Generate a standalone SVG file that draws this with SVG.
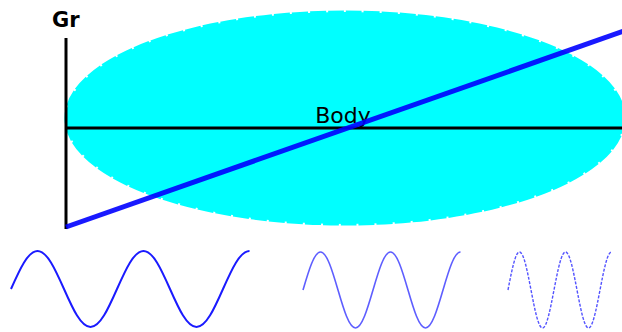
<svg xmlns="http://www.w3.org/2000/svg" width="622" height="332" viewBox="0 0 622 332">
<style>
.lbl{font-family:"DejaVu Sans",sans-serif;fill:#000}
.axis{stroke:#000;stroke-width:3;fill:none}
.wave{fill:none;stroke:#1a1aff}
</style>
<rect width="622" height="332" fill="#fff"/>
<g id="body">
<ellipse cx="345" cy="118" rx="279" ry="106" fill="#00ffff" stroke="#00ffff" stroke-width="3" stroke-dasharray="16 2"/>
<text class="lbl" x="343" y="123" font-size="22" text-anchor="middle">Body</text>
</g>
<g id="connectors">
<line class="axis" x1="66" y1="38" x2="66" y2="229"/>
<line class="axis" x1="66" y1="128" x2="622" y2="128"/>
<line x1="66" y1="227" x2="624" y2="31" stroke="#0000ff" stroke-width="5" stroke-opacity="0.9"/>
</g>
<g id="gr">
<text class="lbl" x="52" y="27" font-size="21" font-weight="bold">Gr</text>
</g>
<g id="wave1">
<path class="wave" stroke-width="2" d="M11,289 C19.64,269.53 27.91,251 37.5,251 C47.09,251 55.36,269.53 64,289 C72.64,308.47 80.91,327 90.5,327 C100.09,327 108.36,308.47 117,289 C125.64,269.53 133.91,251 143.5,251 C153.09,251 161.36,269.53 170,289 C178.64,308.47 186.91,327 196.5,327 C206.09,327 214.36,308.47 223,289 C231.64,269.53 239.91,251 249.5,251"/>
</g>
<g id="wave2">
<path class="wave" stroke-width="1.6" stroke-opacity="0.7" d="M303,290 C308.71,270.53 314.17,252 320.5,252 C326.83,252 332.29,270.53 338,290 C343.71,309.47 349.17,328 355.5,328 C361.83,328 367.29,309.47 373,290 C378.71,270.53 384.17,252 390.5,252 C396.83,252 402.29,270.53 408,290 C413.71,309.47 419.17,328 425.5,328 C431.83,328 437.29,309.47 443,290 C448.71,270.53 454.17,252 460.5,252"/>
</g>
<g id="wave3">
<path class="wave" stroke-width="1.4" stroke-opacity="0.75" stroke-dasharray="3 1.5" d="M508,290 C511.75,270.53 515.34,252 519.5,252 C523.66,252 527.25,270.53 531,290 C534.75,309.47 538.34,328 542.5,328 C546.66,328 550.25,309.47 554,290 C557.75,270.53 561.34,252 565.5,252 C569.66,252 573.25,270.53 577,290 C580.75,309.47 584.34,328 588.5,328 C592.66,328 596.25,309.47 600,290 C603.75,270.53 607.34,252 611.5,252"/>
</g>
</svg>
